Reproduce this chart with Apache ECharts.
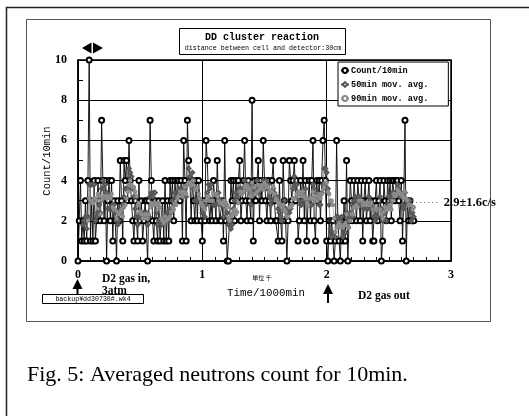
<!DOCTYPE html>
<html>
<head>
<meta charset="utf-8">
<script src="https://cdn.jsdelivr.net/npm/echarts@6/dist/echarts.min.js"></script>
<style>
  html, body { margin: 0; padding: 0; background: #fff; }
  #chart { width: 529px; height: 416px; }
</style>
</head>
<body>
<div id="chart"></div>
<script>
// neutron counts per 10 min (time 0 .. 2.7 thousand min)
const counts0to1 = [
  0, 2, 4, 1, 2, 1, 3, 1, 4, 10,
  1, 3, 1, 4, 1, 2, 4, 3, 2, 7,
  4, 2, 4, 0, 3, 4, 2, 4, 1, 3,
  2, 0, 3, 2, 5, 3, 1, 5, 4, 5,
  3, 6, 4, 3, 2, 1, 3, 2, 1, 4,
  2, 3, 1, 2, 3, 3, 0, 3, 7, 4,
  2, 1, 3, 2, 1, 3, 1, 2, 3, 1,
  4, 1, 3, 1, 4, 3, 4, 2, 4, 3,
  4, 4, 3, 4, 1, 6, 4, 1, 7, 5,
  4, 2, 4, 3, 2, 4, 2, 4, 3, 2
];
const counts1to2 = [
  1, 3, 2, 6, 5, 3, 2, 3, 2, 4,
  3, 2, 5, 3, 2, 2, 3, 1, 6, 2,
  0, 0, 2, 4, 3, 4, 2, 4, 3, 4,
  5, 2, 3, 4, 6, 3, 2, 4, 3, 2,
  8, 1, 4, 3, 4, 5, 2, 4, 3, 6,
  4, 3, 2, 4, 3, 2, 4, 5, 3, 2,
  2, 1, 4, 2, 1, 5, 3, 2, 0, 2,
  5, 4, 3, 4, 5, 3, 4, 1, 2, 4,
  3, 5, 2, 4, 1, 3, 4, 2, 4, 6,
  2, 1, 4, 3, 4, 2, 4, 6, 7, 4
];
const counts2to3 = [
  1, 0, 2, 1, 2, 2, 0, 1, 6, 2,
  1, 0, 2, 1, 3, 1, 5, 0, 2, 4,
  3, 2, 4, 3, 2, 4, 3, 2, 4, 1,
  3, 4, 2, 3, 4, 2, 3, 1, 1, 3,
  4, 2, 3, 4, 0, 1, 4, 3, 2, 4,
  3, 4, 2, 4, 4, 3, 4, 4, 3, 2,
  4, 1, 3, 7, 0, 3, 2, 3, 2, 2,
  2
];
const timeStep = 0.01;        // 10 min in units of 1000 min
const seriesNames = ["Count/10min", "50min mov. avg.", "90min mov. avg."];
const avgPoints = [5, 9];     // 50 min and 90 min windows
const meanValue = 2.9;
const meanText = "2.9±1.6c/s";

const counts = counts0to1.concat(counts1to2, counts2to3);

function movAvg(arr, n) {
  const out = [];
  for (let i = n - 1; i < arr.length; i++) {
    let s = 0;
    for (let k = i - n + 1; k <= i; k++) s += arr[k];
    out.push([+(i * timeStep).toFixed(2), +(s / n).toFixed(2)]);
  }
  return out;
}

const countData = counts.map((v, i) => [+(i * timeStep).toFixed(2), v]);
const lastT = countData[countData.length - 1][0];

const chart = echarts.init(document.getElementById("chart"));
const serif = "Liberation Serif";
const mono = "Liberation Mono";

const option = {
  animation: false,
  backgroundColor: "#fff",
  grid: {
    left: 78, right: 78, top: 60, bottom: 155,
    show: true, borderColor: "#000", borderWidth: 1.5
  },
  legend: {
    orient: "vertical",
    left: 338, top: 62,
    data: seriesNames,
    backgroundColor: "#fff",
    borderColor: "#000",
    borderWidth: 1,
    padding: [4, 20, 3, 2],
    itemGap: 5,
    itemWidth: 8,
    itemHeight: 6,
    textStyle: { fontFamily: mono, fontWeight: "bold", fontSize: 8.6, color: "#000", padding: [0, 0, 0, -3] }
  },
  xAxis: {
    type: "value", min: 0, max: 3, interval: 1,
    axisLine: { lineStyle: { color: "#000", width: 1.5 } },
    axisTick: { inside: true, length: 5, lineStyle: { color: "#000" } },
    minorTick: { show: true, splitNumber: 10, length: 4, lineStyle: { color: "#000" } },
    splitLine: { show: true, lineStyle: { color: "#000", width: 1 } },
    axisLabel: { margin: 8, fontFamily: serif, fontWeight: "bold", fontSize: 12, color: "#000" }
  },
  yAxis: {
    type: "value", min: 0, max: 10, interval: 2,
    axisLine: { lineStyle: { color: "#000", width: 1.5 } },
    axisTick: { inside: true, length: 5, lineStyle: { color: "#000" } },
    minorTick: { show: true, splitNumber: 2, length: 5, lineStyle: { color: "#000" } },
    splitLine: { show: true, lineStyle: { color: "#000", width: 1 } },
    axisLabel: { margin: 11, fontFamily: serif, fontWeight: "bold", fontSize: 12, color: "#000" }
  },
  series: [
    {
      name: seriesNames[0],
      type: "line",
      data: countData,
      symbol: "emptyCircle",
      symbolSize: 5,
      showAllSymbol: true,
      itemStyle: { color: "#000", borderColor: "#000", borderWidth: 1.1 },
      lineStyle: { color: "#000", width: 0.9 },
      markLine: {
        silent: true,
        symbol: "none",
        lineStyle: { color: "#666", type: [1, 3], width: 1 },
        label: {
          position: "end", distance: 4,
          formatter: meanText,
          fontFamily: serif, fontWeight: "bold", fontSize: 12.5, color: "#000"
        },
        data: [[{ coord: [lastT + 0.02, meanValue] }, { coord: [lastT + 0.21, meanValue] }]]
      },
      z: 2
    },
    {
      name: seriesNames[1],
      type: "line",
      data: movAvg(counts, avgPoints[0]),
      symbol: "emptyDiamond",
      symbolSize: 3.5,
      showAllSymbol: true,
      itemStyle: { color: "#555", borderColor: "#555", borderWidth: 0.7 },
      lineStyle: { color: "#666", width: 0.6 },
      z: 3
    },
    {
      name: seriesNames[2],
      type: "line",
      data: movAvg(counts, avgPoints[1]),
      symbol: "emptyCircle",
      symbolSize: 2.5,
      showAllSymbol: true,
      itemStyle: { color: "#888", borderColor: "#888", borderWidth: 0.7 },
      lineStyle: { color: "#999", width: 0.6 },
      z: 3
    }
  ],
  graphic: [
    // outer frame and figure box
    { type: "rect", shape: { x: 6.5, y: 7.5, width: 560, height: 440 }, style: { fill: "none", stroke: "#222", lineWidth: 1.5 }, z: -10 },
    { type: "rect", shape: { x: 26.5, y: 19.5, width: 464, height: 302 }, style: { fill: "none", stroke: "#555", lineWidth: 1 }, z: -10 },
    // title box
    { type: "rect", shape: { x: 179.5, y: 28.5, width: 166, height: 26 }, style: { fill: "#fff", stroke: "#000", lineWidth: 1 } },
    { type: "text", x: 262, y: 37, style: { text: "DD cluster reaction", font: "bold 10px " + mono, fill: "#000", align: "center", verticalAlign: "middle" } },
    { type: "text", x: 263, y: 48, style: { text: "distance between cell and detector:30cm", font: "6.7px " + mono, fill: "#000", align: "center", verticalAlign: "middle" } },
    // double arrow above the plot
    { type: "polygon", shape: { points: [[82, 48], [91.5, 42.5], [91.5, 53.5]] }, style: { fill: "#000" } },
    { type: "polygon", shape: { points: [[103, 48], [93, 42.5], [93, 53.5]] }, style: { fill: "#000" } },
    // y axis name
    { type: "text", x: 47, y: 161, rotation: Math.PI / 2, style: { text: "Count/10min", font: "10.5px " + mono, fill: "#000", align: "center", verticalAlign: "middle" } },
    // x axis name
    { type: "text", x: 262, y: 278, style: { text: "単位 千", font: "6px 'Noto Sans CJK JP'", fill: "#000", align: "center", verticalAlign: "middle" } },
    { type: "text", x: 266, y: 293, style: { text: "Time/1000min", font: "10.8px " + mono, fill: "#000", align: "center", verticalAlign: "middle" } },
    // gas in / out notes
    { type: "line", shape: { x1: 77.5, y1: 288, x2: 77.5, y2: 296 }, style: { stroke: "#000", lineWidth: 2 } },
    { type: "polygon", shape: { points: [[77.5, 279], [72.5, 289], [82.5, 289]] }, style: { fill: "#000" } },
    { type: "text", x: 102, y: 279, style: { text: "D2 gas in,", font: "bold 11.5px " + serif, fill: "#000", verticalAlign: "middle" } },
    { type: "text", x: 102, y: 291, style: { text: "3atm", font: "bold 11.5px " + serif, fill: "#000", verticalAlign: "middle" } },
    { type: "rect", shape: { x: 42.5, y: 294.5, width: 101, height: 9 }, style: { fill: "#fff", stroke: "#000", lineWidth: 1 } },
    { type: "text", x: 93, y: 299.5, style: { text: "backup¥dd30730#.wk4", font: "6.6px " + mono, fill: "#000", align: "center", verticalAlign: "middle" } },
    { type: "line", shape: { x1: 328, y1: 293, x2: 328, y2: 303 }, style: { stroke: "#000", lineWidth: 2 } },
    { type: "polygon", shape: { points: [[328, 284], [323, 294], [333, 294]] }, style: { fill: "#000" } },
    { type: "text", x: 358, y: 296, style: { text: "D2 gas out", font: "bold 11.5px " + serif, fill: "#000", verticalAlign: "middle" } },
    // caption
    { type: "text", x: 27, y: 375, style: { text: "Fig. 5: Averaged neutrons count for 10min.", font: "22px " + serif, fill: "#000", verticalAlign: "middle" } }
  ]
};

chart.setOption(option);
</script>
</body>
</html>
